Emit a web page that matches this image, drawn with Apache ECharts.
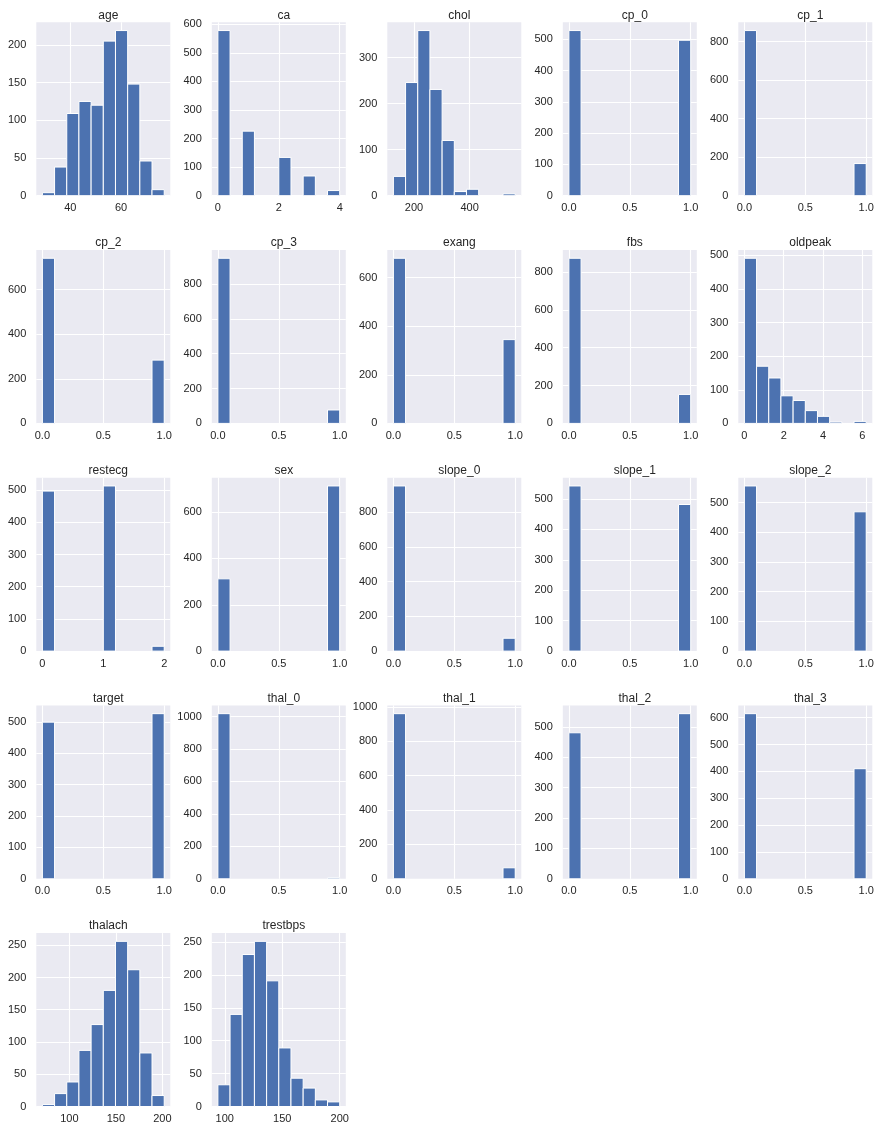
<!DOCTYPE html>
<html>
<head>
<meta charset="utf-8">
<script src="https://cdn.jsdelivr.net/npm/echarts@6/dist/echarts.min.js"></script>
<style>
html,body{margin:0;padding:0;background:#fff;}
#c{width:880px;height:1135px;}
</style>
</head>
<body>
<div id="c"></div>
<script>
const names = ['age','ca','chol','cp_0','cp_1','cp_2','cp_3','exang','fbs','oldpeak',
  'restecg','sex','slope_0','slope_1','slope_2','target','thal_0','thal_1','thal_2','thal_3',
  'thalach','trestbps'];
const binMin = [29,0,126,0,0,0,0,0,0,0, 0,0,0,0,0,0,0,0,0,0, 71,94];
const binMax = [77,4,564,1,1,1,1,1,1,6.2, 2,1,1,1,1,1,1,1,1,1, 202,200];
const ageCounts      = [4,38,109,125,120,205,219,148,46,8];
const caCounts       = [578,0,226,0,0,134,0,69,0,18];
const cholCounts     = [42,246,359,231,120,9,14,0,0,4];
const cp0Counts      = [528,0,0,0,0,0,0,0,0,497];
const cp1Counts      = [858,0,0,0,0,0,0,0,0,167];
const cp2Counts      = [741,0,0,0,0,0,0,0,0,284];
const cp3Counts      = [948,0,0,0,0,0,0,0,0,77];
const exangCounts    = [680,0,0,0,0,0,0,0,0,345];
const fbsCounts      = [872,0,0,0,0,0,0,0,0,153];
const oldpeakCounts  = [491,170,135,82,68,38,21,4,0,6];
const restecgCounts  = [497,0,0,0,0,513,0,0,0,15];
const sexCounts      = [312,0,0,0,0,0,0,0,0,713];
const slope0Counts   = [951,0,0,0,0,0,0,0,0,74];
const slope1Counts   = [543,0,0,0,0,0,0,0,0,482];
const slope2Counts   = [556,0,0,0,0,0,0,0,0,469];
const targetCounts   = [499,0,0,0,0,0,0,0,0,526];
const thal0Counts    = [1018,0,0,0,0,0,0,0,0,7];
const thal1Counts    = [961,0,0,0,0,0,0,0,0,64];
const thal2Counts    = [481,0,0,0,0,0,0,0,0,544];
const thal3Counts    = [615,0,0,0,0,0,0,0,0,410];
const thalachCounts  = [3,20,38,87,127,180,256,212,83,17];
const trestbpsCounts = [33,140,231,251,191,89,43,28,10,7];
const counts = [ageCounts,caCounts,cholCounts,cp0Counts,cp1Counts,cp2Counts,cp3Counts,exangCounts,
  fbsCounts,oldpeakCounts,restecgCounts,sexCounts,slope0Counts,slope1Counts,slope2Counts,targetCounts,
  thal0Counts,thal1Counts,thal2Counts,thal3Counts,thalachCounts,trestbpsCounts];

const binTicks = [0,0.5,1];
const xTicks = [[40,60],[0,2,4],[200,400],binTicks,binTicks,binTicks,binTicks,binTicks,binTicks,[0,2,4,6],
  [0,1,2],binTicks,binTicks,binTicks,binTicks,binTicks,binTicks,binTicks,binTicks,binTicks,
  [100,150,200],[100,150,200]];
const xDecimals = [0,0,0,1,1,1,1,1,1,0, 0,1,1,1,1,1,1,1,1,1, 0,0];
const yTicks = [
  [0,50,100,150,200],[0,100,200,300,400,500,600],[0,100,200,300],[0,100,200,300,400,500],
  [0,200,400,600,800],[0,200,400,600],[0,200,400,600,800],[0,200,400,600],[0,200,400,600,800],
  [0,100,200,300,400,500],[0,100,200,300,400,500],[0,200,400,600],[0,200,400,600,800],
  [0,100,200,300,400,500],[0,100,200,300,400,500],[0,100,200,300,400,500],
  [0,200,400,600,800,1000],[0,200,400,600,800,1000],[0,100,200,300,400,500],
  [0,100,200,300,400,500,600],[0,50,100,150,200,250],[0,50,100,150,200,250]];

const FONT = '"Liberation Sans", Arial, sans-serif';
const TXT = '#262626';
const colLeft0 = 36.3, colStep = 175.5, plotW = 134;
const rowTop0 = 22.3, rowStep = 227.7, plotH = 173.4;

const grids = [], xAxes = [], yAxes = [], series = [], titles = [];
names.forEach((name, i) => {
  const r = Math.floor(i / 5), c = i % 5;
  const left = colLeft0 + c * colStep, top = rowTop0 + r * rowStep;
  grids.push({left: left, top: top, width: plotW, height: plotH, show: true,
    backgroundColor: '#EAEAF2', borderWidth: 0, containLabel: false});
  const lo = binMin[i], hi = binMax[i], span = hi - lo;
  const cmax = Math.max.apply(null, counts[i]);
  const dec = xDecimals[i];
  xAxes.push({type: 'value', gridIndex: i, min: lo - 0.05 * span, max: hi + 0.05 * span,
    axisLine: {show: false},
    axisTick: {show: false, customValues: xTicks[i]},
    splitLine: {show: true, lineStyle: {color: '#ffffff', width: 1.1}},
    axisLabel: {customValues: xTicks[i], color: TXT, fontSize: 11, fontFamily: FONT, margin: 7,
      formatter: v => Number(v).toFixed(dec)}});
  yAxes.push({type: 'value', gridIndex: i, min: 0, max: cmax * 1.05,
    axisLine: {show: false},
    axisTick: {show: false, customValues: yTicks[i]},
    splitLine: {show: true, lineStyle: {color: '#ffffff', width: 1.1}},
    axisLabel: {customValues: yTicks[i], color: TXT, fontSize: 11, fontFamily: FONT, margin: 10,
      formatter: v => String(Math.round(v))}});
  const w = span / 10;
  const data = [];
  counts[i].forEach((n, k) => { if (n > 0) data.push([lo + k * w, lo + (k + 1) * w, n]); });
  series.push({type: 'custom', xAxisIndex: i, yAxisIndex: i, data: data,
    encode: {x: [0, 1], y: 2}, silent: true, animation: false,
    renderItem: function (params, api) {
      const p0 = api.coord([api.value(0), api.value(2)]);
      const p1 = api.coord([api.value(1), 0]);
      return {type: 'rect',
        shape: {x: p0[0], y: p0[1], width: p1[0] - p0[0], height: p1[1] - p0[1]},
        style: {fill: '#4C72B0', stroke: '#ffffff', lineWidth: 1}};
    }});
  titles.push({text: name, left: left + plotW / 2, top: top - 18, textAlign: 'center',
    textStyle: {color: TXT, fontSize: 12, fontWeight: 'normal', fontFamily: FONT}});
});

const chart = echarts.init(document.getElementById('c'), null, {renderer: 'canvas'});
chart.setOption({animation: false, backgroundColor: '#ffffff', title: titles,
  grid: grids, xAxis: xAxes, yAxis: yAxes, series: series});
</script>
</body>
</html>
